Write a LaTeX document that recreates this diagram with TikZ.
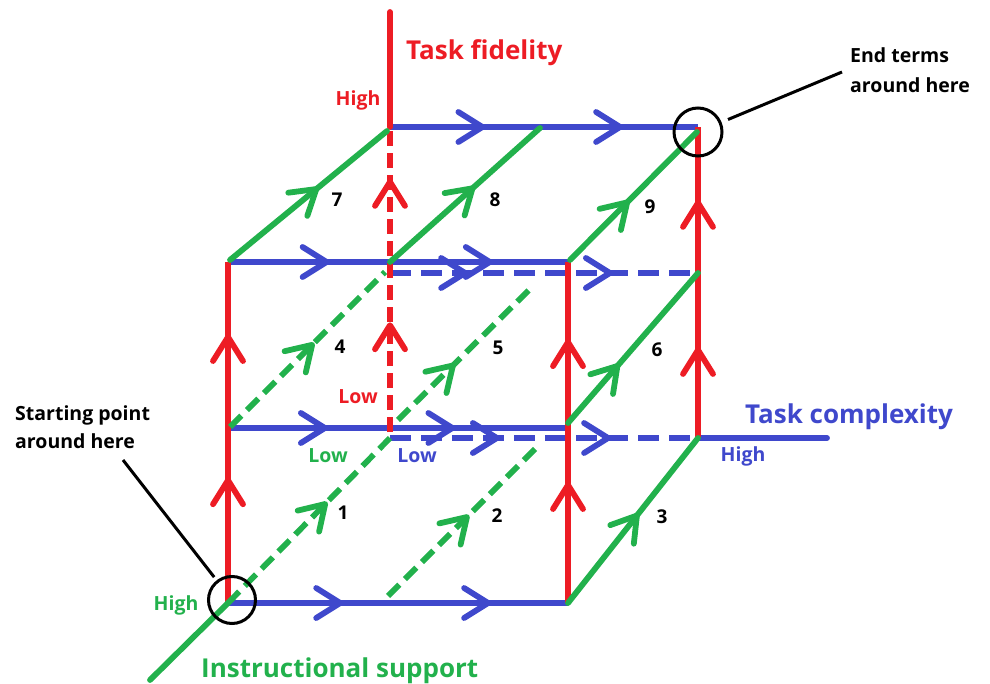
\documentclass[tikz,border=0pt]{standalone}
\usepackage{fontspec}
\setmainfont{Open Sans}
\usetikzlibrary{decorations.markings}
\definecolor{pred}{HTML}{ED1C24}
\definecolor{pblue}{HTML}{3F48CC}
\definecolor{pgreen}{HTML}{22B14C}
\newcommand\vtip{\draw[solid,line cap=round,line join=round] (-24pt,15pt) -- (0pt,0pt) -- (-24pt,-15pt);}
\begin{document}
\begin{tikzpicture}[x=1pt,y=-1pt,
  ln/.style={line width=5.8pt},
  bl/.style={ln,draw=pblue,color=pblue},
  rd/.style={ln,draw=pred,color=pred},
  gr/.style={ln,draw=pgreen,color=pgreen},
  bdash/.style={dash pattern=on 21pt off 10pt},
  rdash/.style={dash pattern=on 15pt off 7pt},
  gdash/.style={dash pattern=on 16pt off 8pt},
  tip/.style={postaction={decorate},decoration={markings,mark=at position #1 with {\vtip}}},
  tips/.style 2 args={postaction={decorate},decoration={markings,mark=at position #1 with {\vtip},mark=at position #2 with {\vtip}}},
  lbl/.style={font=\bfseries\fontsize{19.5}{22}\selectfont, inner sep=0pt},
  ttl/.style={font=\bfseries\fontsize{26}{30}\selectfont, inner sep=0pt},
  num/.style={font=\bfseries\fontsize{19}{22}\selectfont, inner sep=0pt, text=black},
  callout/.style={line width=3pt, black},
]
\useasboundingbox (0,0) rectangle (990,684);
% corners
\coordinate (FBL) at (228,603); \coordinate (FBR) at (568,603);
\coordinate (FML) at (228,428); \coordinate (FMR) at (568,428);
\coordinate (FTL) at (228,262); \coordinate (FTR) at (568,262);
\coordinate (BBL) at (390,438); \coordinate (BBR) at (698,438);
\coordinate (BML) at (390,273); \coordinate (BMR) at (698,273);
\coordinate (BTL) at (390,127); \coordinate (BTR) at (698,127);
\coordinate (RAX) at (390,12);  \coordinate (BAX) at (827,438);
\coordinate (GAX) at (150,680);
\coordinate (g2a) at (388,596); \coordinate (g2b) at (537,447);
\coordinate (g4a) at (230,427); \coordinate (g4b) at (385,272);
\coordinate (g5a) at (398,420); \coordinate (g5b) at (532,287);
\coordinate (g6a) at (568,423);
\coordinate (g7a) at (230,260); \coordinate (g7b) at (387,131);
\coordinate (g8a) at (390,262); \coordinate (g8b) at (540,128);
\coordinate (g9a) at (570,260); \coordinate (g9b) at (697,132);
\coordinate (FMM) at (390,432);

% blue lines
\draw[bl,tips={0.33}{0.765}] (FBL) -- (FBR);
\draw[bl,tips={0.285}{0.66}] (FML) -- (FMR);
\draw[bl,bdash,tips={0.347}{0.708}] (BBL) -- (BBR);
\draw[bl,line cap=round] (BBR) -- (BAX);
\draw[bl,tips={0.29}{0.77}] (FTL) -- (FTR);
\draw[bl,bdash,tips={0.244}{0.714}] (BML) -- (BMR);
\draw[bl,tips={0.30}{0.747}] (BTL) -- (BTR);

% red lines
\draw[rd,tips={0.36}{0.78}] (FBL) -- (FTL);
\draw[rd,tips={0.346}{0.765}] (FBR) -- (FTR);
\draw[rd,tips={0.283}{0.756}] (BBR) -- (BTR);
\draw[rd,rdash,tips={0.35}{0.82}] (FMM) -- (BTL);
\draw[rd,line cap=round] (BTL) -- (RAX);

% green lines
\draw[gr,line cap=round] (GAX) -- (FBL);
\draw[gr,gdash,tip=0.6] (FBL) -- (BBL);
\draw[gr,gdash,tip=0.53] (g2a) -- (g2b);
\draw[gr,line cap=round,tip=0.53] (FBR) -- (BBR);
\draw[gr,gdash,tip=0.53] (g4a) -- (g4b);
\draw[gr,gdash,tip=0.41] (g5a) -- (g5b);
\draw[gr,line cap=round,tip=0.38] (g6a) -- (BMR);
\draw[gr,line cap=round,tip=0.55] (g7a) -- (g7b);
\draw[gr,line cap=round,tip=0.55] (g8a) -- (g8b);
\draw[gr,line cap=round,tip=0.45] (g9a) -- (g9b);

% numbers
\node[num] (n1) at (343,513) {1};
\node[num] (n2) at (497,516) {2};
\node[num] (n3) at (662,517) {3};
\node[num] (n4) at (340,347) {4};
\node[num] (n5) at (498,348) {5};
\node[num] (n6) at (657,350) {6};
\node[num] (n7) at (337,200) {7};
\node[num] (n8) at (495,200) {8};
\node[num] (n9) at (650,207) {9};

% axis labels
\node[ttl,text=pred,anchor=base west] (tf) at (406,60) {Task fidelity};
\node[ttl,text=pblue,anchor=base west] (tc) at (745,423) {Task complexity};
\node[ttl,text=pgreen,anchor=base west] (is) at (201,677) {Instructional support};
\node[lbl,text=pred] (rhigh) at (358,100) {High};
\node[lbl,text=pred] (rlow) at (358,397) {Low};
\node[lbl,text=pgreen] (glow) at (328,456) {Low};
\node[lbl,text=pblue] (blow) at (417,456) {Low};
\node[lbl,text=pblue] (bhigh) at (743,456) {High};
\node[lbl,text=pgreen] (ghigh) at (176,605) {High};

% callouts
\node[circle,draw,callout,minimum size=47pt,inner sep=0pt] (sc) at (232,600) {};
\node[circle,draw,callout,minimum size=48pt,inner sep=0pt] (ec) at (698,132) {};
\node[lbl,anchor=base west] (st1) at (15,420) {Starting point};
\node[lbl,anchor=base west] (st2) at (15,448) {around here};
\node[lbl,anchor=base west] (et1) at (850,63) {End terms};
\node[lbl,anchor=base west] (et2) at (850,93) {around here};
\coordinate (sl) at (123,460);
\coordinate (el) at (842,72);
\draw[callout,shorten >=4pt] (sl) -- (sc);
\draw[callout,shorten >=7pt] (el) -- (ec);
\end{tikzpicture}
\end{document}
